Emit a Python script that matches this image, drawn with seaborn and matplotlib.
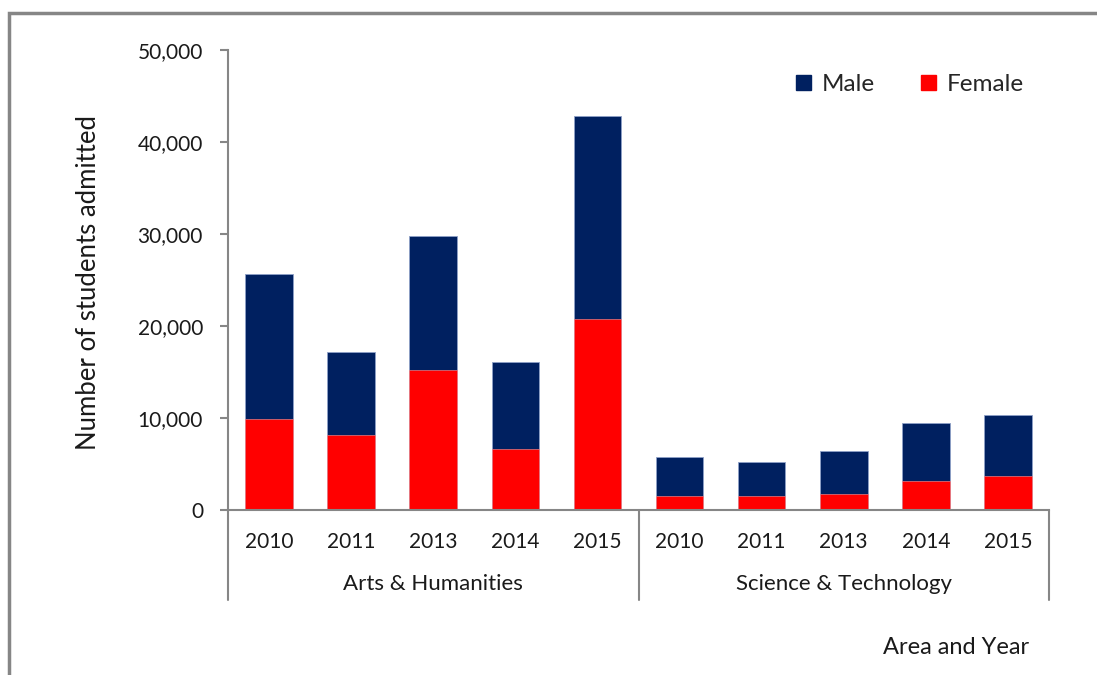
import pandas as pd
import matplotlib
matplotlib.use("Agg")
import matplotlib.pyplot as plt
import matplotlib.patches as mpatches
import matplotlib.transforms as mtrans
import seaborn as sns

# data
areas = ["Arts & Humanities", "Science & Technology"]
years = ["2010", "2011", "2013", "2014", "2015"]
female = [9850, 8140, 15180, 6550, 20760, 1470, 1470, 1720, 3100, 3610]
total = [25590, 17170, 29790, 16080, 42850, 5750, 5200, 6400, 9450, 10250]
male = [t - f for t, f in zip(total, female)]

keys = [f"{a}|{y}" for a in areas for y in years]
df = pd.DataFrame({"key": keys, "female": female, "male": male, "total": total})

sns.set_theme(style="white")
plt.rcParams["font.family"] = ["Lato", "DejaVu Sans"]

navy = "#002060"
red = "#FF0000"
grey = "#868686"
txt = "#1a1a1a"

fig = plt.figure(figsize=(10.97, 6.75), dpi=100)
ax = fig.add_axes([228 / 1097, 1 - 509.5 / 675, 821 / 1097, 459.5 / 675])

# stacked bars: total (male on top) then female over it
sns.barplot(data=df, x="key", y="total", order=keys, color=navy, width=0.58,
            saturation=1, edgecolor="#8EA0C8", linewidth=0.6, ax=ax)
sns.barplot(data=df, x="key", y="female", order=keys, color=red, width=0.58,
            saturation=1, edgecolor="#FF9999", linewidth=0.4, ax=ax)

ax.set_xlim(-0.5, len(keys) - 0.5)
ax.set_ylim(0, 50000)
ax.set_yticks(range(0, 50001, 10000))
ax.yaxis.set_major_formatter(matplotlib.ticker.FuncFormatter(lambda v, p: f"{int(v):,}"))
ax.set_xticklabels(years * 2)
ax.tick_params(axis="x", length=0, pad=16, labelsize=15, colors=txt)
ax.tick_params(axis="y", length=6, width=1.5, color=grey, pad=12, labelsize=15,
               colors=txt, left=True)
ax.set_xlabel("")
ax.set_ylabel("")

for side in ["top", "right"]:
    ax.spines[side].set_visible(False)
for side in ["left", "bottom"]:
    ax.spines[side].set_color(grey)
    ax.spines[side].set_linewidth(1.5)

# group dividers and group labels under the axis
trans = mtrans.blended_transform_factory(ax.transData, ax.transAxes)
for xv in [-0.5, 4.5, 9.5]:
    ax.plot([xv, xv], [0, -0.196], color=grey, lw=1.5, transform=trans, clip_on=False)
for i, a in enumerate(areas):
    ax.text(2 + 5 * i, -(584 - 509.5) / 459.5, a, transform=trans, ha="center",
            va="center", fontsize=16, color=txt)

fig.text(89 / 1097, 1 - 283 / 675, "Number of students admitted", rotation=90,
         ha="center", va="center", fontsize=18.5, color=txt)
fig.text(956 / 1097, 1 - 647 / 675, "Area and Year", ha="center", va="center",
         fontsize=17, color=txt)

handles = [mpatches.Patch(color=navy, label="Male"), mpatches.Patch(color=red, label="Female")]
ax.legend(handles=handles, ncol=2, frameon=False, fontsize=17.5, loc="upper right",
          bbox_to_anchor=(0.996, 0.995), handlelength=0.6, handleheight=0.6,
          columnspacing=1.9, handletextpad=0.45)

# outer chart frame
fig.add_artist(mpatches.Rectangle((9 / 1097, -0.1), 1.2, 1 - 13 / 675 + 0.1,
                                  transform=fig.transFigure, fill=False,
                                  edgecolor=grey, lw=2.5, clip_on=False))

fig.savefig("out.png", dpi=100)
